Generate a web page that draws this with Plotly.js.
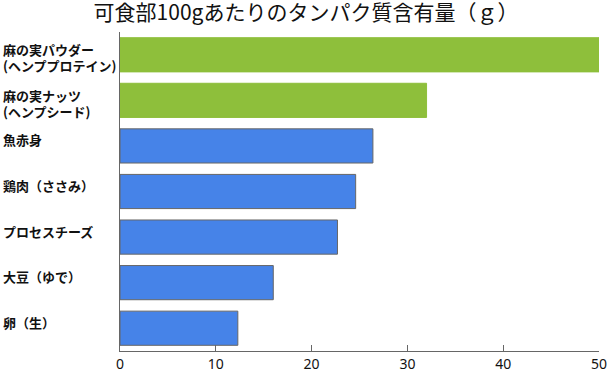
<!DOCTYPE html>
<html><head><meta charset="utf-8">
<script src="https://cdn.plot.ly/plotly-3.0.1.min.js"></script>
<style>html,body{margin:0;padding:0;background:#fff}#c{width:612px;height:371px}</style>
</head><body><div id="c"></div>
<script>
const categories = ["麻の実パウダー<br>(ヘンププロテイン)", "麻の実ナッツ<br>(ヘンプシード)", "魚赤身", "鶏肉（ささみ）", "プロセスチーズ", "大豆（ゆで）", "卵（生）"];
const values = [50, 32, 26.4, 24.6, 22.7, 16.0, 12.3];
const barColors = ["#8ebf3b", "#8ebf3b", "#4683e8", "#4683e8", "#4683e8", "#4683e8", "#4683e8"];
const lineColors = ["#8ebf3b", "#8ebf3b", "#666666", "#666666", "#666666", "#666666", "#666666"];
const xTicks = [0, 10, 20, 30, 40, 50];
const titleText = "可食部100gあたりのタンパク質含有量（ｇ）";

const font = "'Noto Sans CJK JP', 'Noto Sans', sans-serif";
const trace = {
  type: "bar", orientation: "h",
  x: values, y: categories,
  marker: {color: barColors, line: {color: lineColors, width: 1}},
  width: 0.75, hoverinfo: "none"
};
const annotations = [];
categories.forEach((c) => {
  const lines = c.split("<br>");
  lines.forEach((ln, i) => {
    const shift = lines.length > 1 ? (i === 0 ? 5 : -11) : 6;
    annotations.push({
      x: 0, xref: "paper", xshift: -119, xanchor: "left",
      y: c, yref: "y", yanchor: "middle", yshift: shift,
      text: "<b>" + ln + "</b>", showarrow: false, align: "left",
      font: {family: font, size: 13, color: "#111"}
    });
  });
});
const layout = {
  width: 612, height: 371,
  margin: {l: 120, r: 13, t: 32, b: 20},
  paper_bgcolor: "#fff", plot_bgcolor: "#fff",
  title: {text: titleText, x: 0.5, xanchor: "center", y: 0.985, yanchor: "top",
          font: {family: font, size: 21, color: "#111"}},
  xaxis: {range: [0, 50], tickvals: xTicks, ticks: "inside", ticklen: 6, tickcolor: "#666",
          showgrid: false, zeroline: false, showline: true, linecolor: "#666", linewidth: 1,
          tickfont: {family: "'Noto Sans', sans-serif", size: 14, color: "#111"}, fixedrange: true},
  yaxis: {autorange: "reversed", showticklabels: false, ticks: "", showgrid: false,
          zeroline: false, showline: true, linecolor: "#666", linewidth: 1, fixedrange: true},
  bargap: 0.25, showlegend: false, annotations: annotations
};
Plotly.newPlot("c", [trace], layout, {staticPlot: true});
</script></body></html>
